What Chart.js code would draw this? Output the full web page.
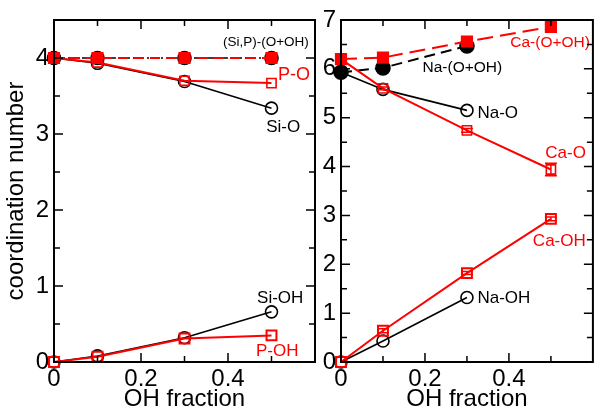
<!DOCTYPE html>
<html>
<head>
<meta charset="utf-8">
<script src="https://cdn.jsdelivr.net/npm/chart.js@4.4.0/dist/chart.umd.min.js"></script>
<style>
  html, body { margin: 0; padding: 0; background: #fff; }
  #wrap { position: relative; width: 602px; height: 414px; }
  canvas { position: absolute; left: 0; top: 0; }
</style>
</head>
<body>
<div id="wrap">
  <canvas id="left" width="602" height="414"></canvas>
  <canvas id="right" width="602" height="414"></canvas>
</div>
<script>
// OH fraction values
const ohFraction = [0, 0.1, 0.3, 0.5];
const naFraction = [0, 0.1, 0.3];

// left panel: network formers
const siTotal = [4, 4, 4, 4];
const pTotal = [4, 4, 4, 4];
const siO = [4, 3.93, 3.69, 3.34];
const pO = [4, 3.94, 3.70, 3.67];
const siOH = [0, 0.08, 0.32, 0.66];
const pOH = [0, 0.07, 0.31, 0.35];

// right panel: modifiers
const naTotal = [5.93, 6.02, 6.47];
const caTotal = [6.2, 6.23, 6.56, 6.86];
const naO = [5.93, 5.58, 5.15];
const caO = [6.2, 5.6, 4.74, 3.94];
const naOH = [0, 0.43, 1.32];
const caOH = [0, 0.64, 1.82, 2.93];

// error bars (Ca only)
const caTotalErr = [0, 0.03, 0.04, 0.05];
const caOErr = [0, 0.03, 0.04, 0.13];
const caOHErr = [0, 0.04, 0.03, 0.04];

const xTicks = [0, 0.2, 0.4];

const leftNotes = [
    { x: 0.487, y: 4.21, text: '(Si,P)-(O+OH)', color: '#000', size: 13.5, align: 'center' },
    { x: 0.515, y: 3.78, text: 'P-O', color: '#ff0000', size: 18, align: 'left' },
    { x: 0.527, y: 3.09, text: 'Si-O', color: '#000', size: 17, align: 'center' },
    { x: 0.52, y: 0.84, text: 'Si-OH', color: '#000', size: 17, align: 'center' },
    { x: 0.513, y: 0.14, text: 'P-OH', color: '#ff0000', size: 17, align: 'center' }
];
const rightNotes = [
    { x: 0.498, y: 6.53, text: 'Ca-(O+OH)', color: '#ff0000', size: 15.5, align: 'center' },
    { x: 0.289, y: 6.02, text: 'Na-(O+OH)', color: '#000', size: 15.5, align: 'center' },
    { x: 0.325, y: 5.1, text: 'Na-O', color: '#000', size: 17, align: 'left' },
    { x: 0.535, y: 4.27, text: 'Ca-O', color: '#ff0000', size: 17, align: 'center' },
    { x: 0.52, y: 2.47, text: 'Ca-OH', color: '#ff0000', size: 17, align: 'center' },
    { x: 0.325, y: 1.31, text: 'Na-OH', color: '#000', size: 17, align: 'left' }
];

const FONT = '"Liberation Sans", Arial, Helvetica, sans-serif';
const RED = '#ff0000';

function pts(xs, ys) {
    return ys.map((v, i) => ({ x: xs[i], y: v }));
}

function series(xs, ys, color, opts) {
    return Object.assign({
        data: pts(xs, ys),
        borderColor: color,
        borderWidth: 2,
        pointStyle: 'circle',
        pointRadius: 6,
        pointBorderWidth: 1.6,
        pointBorderColor: color,
        pointBackgroundColor: 'rgba(0,0,0,0)',
        showLine: true,
        fill: false,
        clip: false
    }, opts);
}

// frame with inward ticks on all sides
const frameTicks = {
    id: 'frameTicks',
    afterDraw(chart, args, o) {
        const { ctx, chartArea: a, scales: { x, y } } = chart;
        ctx.save();
        ctx.strokeStyle = '#000';
        ctx.lineWidth = 1.5;
        ctx.beginPath();
        const steps = (min, max, step) => {
            const out = [];
            for (let k = 1; min + k * step < max - 1e-9; k++) out.push(min + k * step);
            return out;
        };
        steps(x.min, x.max, o.xMinor).forEach(v => {
            const px = x.getPixelForValue(v);
            const r = v / o.xMajor;
            const len = Math.abs(r - Math.round(r)) < 1e-6 ? 9 : 6;
            ctx.moveTo(px, a.bottom); ctx.lineTo(px, a.bottom - len);
            ctx.moveTo(px, a.top); ctx.lineTo(px, a.top + len);
        });
        steps(y.min, y.max, o.yMinor).forEach(v => {
            const py = y.getPixelForValue(v);
            const r = v / o.yMajor;
            const len = Math.abs(r - Math.round(r)) < 1e-6 ? 9 : 6;
            ctx.moveTo(a.left, py); ctx.lineTo(a.left + len, py);
            ctx.moveTo(a.right, py); ctx.lineTo(a.right - len, py);
        });
        ctx.stroke();
        ctx.lineWidth = 2;
        ctx.strokeRect(a.left, a.top, a.right - a.left, a.bottom - a.top);
        ctx.restore();
    }
};

// vertical error bars for datasets that carry an errors array
const errorBars = {
    id: 'errorBars',
    afterDatasetsDraw(chart) {
        const { ctx, scales: { x, y } } = chart;
        ctx.save();
        chart.data.datasets.forEach(ds => {
            if (!ds.errors) return;
            ctx.strokeStyle = ds.borderColor;
            ctx.lineWidth = 1.5;
            ds.data.forEach((p, i) => {
                const e = ds.errors[i];
                if (!e) return;
                const px = x.getPixelForValue(p.x);
                const y1 = y.getPixelForValue(p.y - e);
                const y2 = y.getPixelForValue(p.y + e);
                ctx.beginPath();
                ctx.moveTo(px, y1); ctx.lineTo(px, y2);
                ctx.moveTo(px - 6, y1); ctx.lineTo(px + 6, y1);
                ctx.moveTo(px - 6, y2); ctx.lineTo(px + 6, y2);
                ctx.stroke();
            });
        });
        ctx.restore();
    }
};

function notesPlugin(items) {
    return {
        id: 'notes',
        afterDatasetsDraw(chart) {
            const { ctx, scales: { x, y } } = chart;
            ctx.save();
            ctx.textBaseline = 'middle';
            items.forEach(n => {
                ctx.font = n.size + 'px ' + FONT;
                ctx.fillStyle = n.color;
                ctx.textAlign = n.align;
                ctx.fillText(n.text, x.getPixelForValue(n.x), y.getPixelForValue(n.y));
            });
            ctx.restore();
        }
    };
}

function xScale() {
    return {
        type: 'linear', min: 0, max: 0.6,
        grid: { display: false, drawTicks: false },
        border: { display: false },
        ticks: {
            stepSize: 0.2, padding: 3, color: '#000', font: { family: FONT, size: 24 },
            callback: v => xTicks.some(t => Math.abs(t - v) < 1e-6) ? String(Math.round(v * 10) / 10) : ''
        },
        title: { display: true, text: 'OH fraction', color: '#000', font: { family: FONT, size: 24 }, padding: 0 },
        afterFit: s => { s.height = 52; }
    };
}

function yScale(max, width, title) {
    return {
        type: 'linear', min: 0, max: max,
        grid: { display: false, drawTicks: false },
        border: { display: false },
        ticks: {
            stepSize: 1, padding: 5, color: '#000', font: { family: FONT, size: 24 },
            callback: v => Number.isInteger(v) ? String(v) : ''
        },
        title: { display: !!title, text: title || '', color: '#000', font: { family: FONT, size: 24 }, padding: 2 },
        afterFit: s => { s.width = width; }
    };
}

const baseOptions = (padding, yOpts) => ({
    responsive: false,
    animation: false,
    layout: { padding: padding },
    plugins: {
        legend: { display: false },
        tooltip: { enabled: false },
        frameTicks: { xMinor: 0.1, xMajor: 0.2, yMinor: 0.5, yMajor: 1 }
    },
    scales: { x: xScale(), y: yOpts }
});

// dataset 0 is drawn on top, so red series come first
new Chart(document.getElementById('left'), {
    type: 'scatter',
    data: {
        datasets: [
            series(ohFraction, pTotal, RED, { borderDash: [10, 6], pointStyle: 'rect', pointRadius: 7.5, pointBackgroundColor: RED }),
            series(ohFraction, pO, RED, { pointStyle: 'rect', pointRadius: 6.5, pointBorderWidth: 1.6 }),
            series(ohFraction, pOH, RED, { pointStyle: 'rect', pointRadius: 7, pointBorderWidth: 2 }),
            series(ohFraction, siTotal, '#000', { borderWidth: 1.6, borderDash: [6, 3, 2, 3], pointRadius: 6.5, pointBackgroundColor: '#000' }),
            series(ohFraction, siO, '#000', { borderWidth: 1.6 }),
            series(ohFraction, siOH, '#000', { borderWidth: 1.6 })
        ]
    },
    options: baseOptions({ left: 0, top: 20, right: 602 - 315, bottom: 0 }, yScale(4.5, 54, 'coordination number')),
    plugins: [frameTicks, notesPlugin(leftNotes)]
});

new Chart(document.getElementById('right'), {
    type: 'scatter',
    data: {
        datasets: [
            series(ohFraction, caTotal, RED, { borderDash: [16, 7], pointStyle: 'rect', pointRadius: 7.5, pointBackgroundColor: RED, errors: caTotalErr }),
            series(ohFraction, caO, RED, { pointStyle: 'rect', pointRadius: 6.5, pointBorderWidth: 1.6, errors: caOErr }),
            series(ohFraction, caOH, RED, { pointStyle: 'rect', pointRadius: 7, pointBorderWidth: 2, errors: caOHErr }),
            series(naFraction, naTotal, '#000', { borderDash: [11, 6], pointRadius: 7, pointBackgroundColor: '#000' }),
            series(naFraction, naO, '#000', { borderWidth: 1.6 }),
            series(naFraction, naOH, '#000', { borderWidth: 1.6 })
        ]
    },
    options: baseOptions({ left: 315, top: 20, right: 1, bottom: 0 }, yScale(7, 26, '')),
    plugins: [frameTicks, errorBars, notesPlugin(rightNotes)]
});
</script>
</body>
</html>
